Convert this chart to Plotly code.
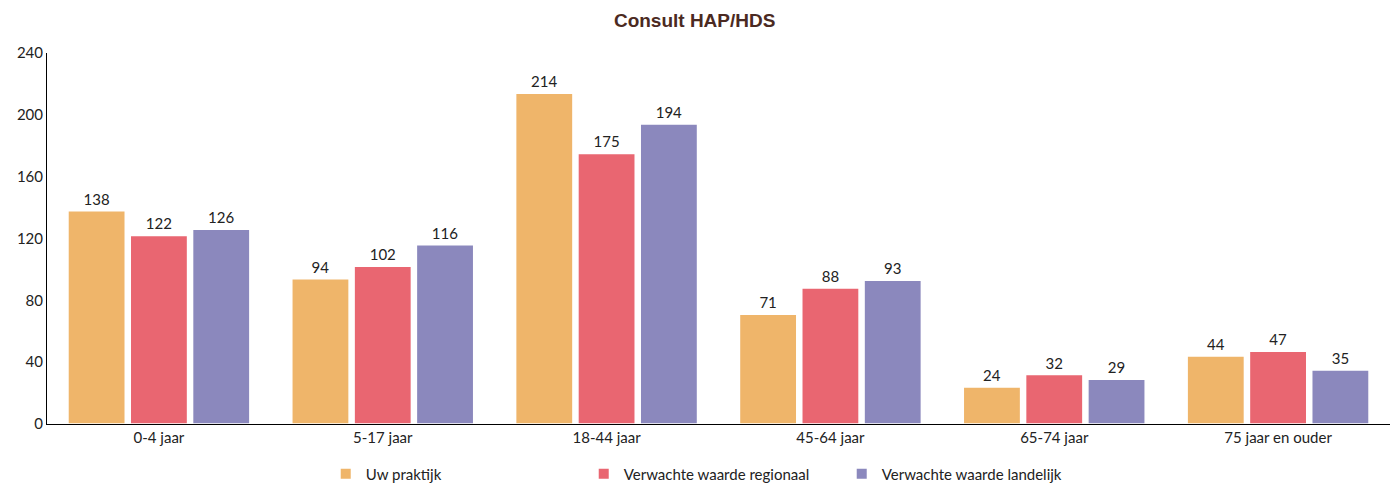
import plotly.graph_objects as go

# Data
categories = ["0-4 jaar", "5-17 jaar", "18-44 jaar", "45-64 jaar", "65-74 jaar", "75 jaar en ouder"]
uw_praktijk = [138, 94, 214, 71, 24, 44]
regionaal = [122, 102, 175, 88, 32, 47]
landelijk = [126, 116, 194, 93, 29, 35]
y_ticks = [0, 40, 80, 120, 160, 200, 240]

series = [
    ("Uw praktijk", uw_praktijk, "#EFB56A"),
    ("Verwachte waarde regionaal", regionaal, "#E96671"),
    ("Verwachte waarde landelijk", landelijk, "#8B88BD"),
]

font_main = "Lato, DejaVu Sans, sans-serif"

fig = go.Figure()
for name, vals, col in series:
    fig.add_trace(go.Bar(
        name=name, x=categories, y=vals,
        marker=dict(color=col, line=dict(color="white", width=1.5)),
        text=vals, textposition="outside", cliponaxis=False,
        textfont=dict(size=15, color="#222"),
    ))

# the page body adds ~8px offset, so the figure is sized slightly smaller
fig.update_layout(
    width=1390, height=479,
    paper_bgcolor="white", plot_bgcolor="white",
    font=dict(family=font_main, size=15, color="#222"),
    title=dict(text="<b>Consult HAP/HDS</b>", x=0.494, xanchor="center", y=0.975, yanchor="middle",
               yref="container",
               font=dict(family="Liberation Sans, Arial, sans-serif", size=19, color="#4B2A22")),
    margin=dict(l=39, r=8, t=45, b=63, autoexpand=False),
    barmode="group", bargap=0.165, bargroupgap=0.08,
    showlegend=True,
    legend=dict(orientation="h", x=0.507, xanchor="center", xref="container",
                y=0.027, yanchor="middle", yref="container",
                entrywidth=213, font=dict(size=15), itemsizing="constant"),
    xaxis=dict(showline=True, linecolor="black", linewidth=1, ticks="", showgrid=False,
               tickfont=dict(size=15), automargin=False),
    yaxis=dict(range=[0, 240], tickvals=y_ticks, showline=True, linecolor="black", linewidth=1,
               showgrid=False, zeroline=False, ticks="", tickfont=dict(size=15), automargin=False),
)

fig.write_html("out.html")
